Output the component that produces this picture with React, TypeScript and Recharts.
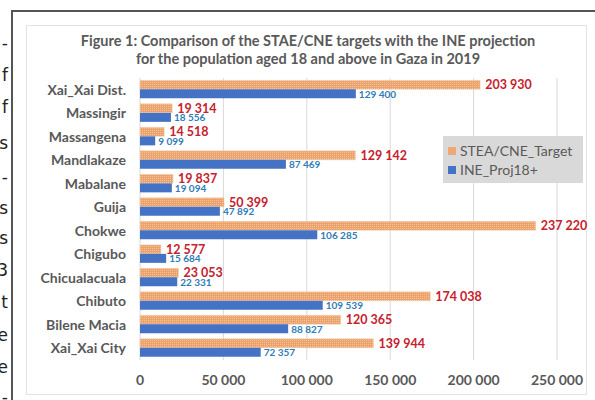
import React from "react";
import { BarChart, Bar, XAxis, YAxis, CartesianGrid, LabelList } from "recharts";

const districts = [
  "Xai_Xai Dist.",
  "Massingir",
  "Massangena",
  "Mandlakaze",
  "Mabalane",
  "Guija",
  "Chokwe",
  "Chigubo",
  "Chicualacuala",
  "Chibuto",
  "Bilene Macia",
  "Xai_Xai City",
];
const targetValues = [203930, 19314, 14518, 129142, 19837, 50399, 237220, 12577, 23053, 174038, 120365, 139944];
const ineValues = [129400, 18556, 9099, 87469, 19094, 47892, 106285, 15684, 22331, 109539, 88827, 72357];
const xTicks = [0, 50000, 100000, 150000, 200000, 250000];
const titleLines = [
  "Figure 1: Comparison of the STAE/CNE targets with the INE projection",
  "for the population aged 18 and above in Gaza in 2019",
];
const seriesNames = ["STEA/CNE_Target", "INE_Proj18+"];
const marginChars = ["-", "f", "f", "s", "-", "s", "s", "3", "t", "e", "e", "-"];
const marginYs = [43, 75, 107, 143, 177, 208, 238, 270, 302, 335, 367, 397];

const data = districts.map((name, i) => ({ name, target: targetValues[i], ine: ineValues[i] }));

const fmt = (v: any) => String(v).replace(/\B(?=(\d{3})+(?!\d))/g, " ");

const FONT = "Lato, 'Open Sans', sans-serif";
const ORANGE = "#EDA873";
const BLUE = "#4472C4";

const makeLabel = (color: string, size: number, offset: number) => (props: any) => {
  const { x, y, width, height, value } = props;
  return (
    <text
      x={Number(x) + Number(width) + offset}
      y={Number(y) + Number(height) / 2}
      dominantBaseline="central"
      fill={color}
      fontSize={size}
      fontWeight="bold"
      fontFamily={FONT}
    >
      {fmt(value)}
    </text>
  );
};

export default function App() {
  return (
    <div style={{ position: "absolute", left: 0, top: 0, width: 595, height: 400, background: "#fff", overflow: "hidden" }}>
      {marginChars.map((c, i) => (
        <div
          key={i}
          style={{
            position: "absolute",
            right: 587,
            top: marginYs[i] - 11,
            fontFamily: "'DejaVu Sans', sans-serif",
            fontSize: 17,
            color: "#222",
            lineHeight: "22px",
          }}
        >
          {c}
        </div>
      ))}
      <div style={{ position: "absolute", left: 11, top: 10, width: 600, height: 400, borderLeft: "2px solid #555", borderTop: "2px solid #555" }} />
      <div style={{ position: "absolute", left: 26, top: 25, width: 559, height: 368, border: "1px solid #e3e3e3" }} />
      <div
        style={{
          position: "absolute",
          left: 26,
          width: 564,
          top: 32,
          textAlign: "center",
          fontFamily: FONT,
          fontWeight: "bold",
          fontSize: 14.5,
          lineHeight: "18px",
          color: "#595959",
        }}
      >
        {titleLines.map((t, i) => (
          <div key={i}>{t}</div>
        ))}
      </div>
      <div style={{ position: "absolute", left: 0, top: 0 }}>
        <BarChart
          width={595}
          height={400}
          data={data}
          layout="vertical"
          margin={{ top: 78, right: 38, bottom: 10, left: 0 }}
          barCategoryGap="10%"
          barGap={0}
        >
          <defs>
            <pattern id="dots" width="2" height="2" patternUnits="userSpaceOnUse">
              <rect width="2" height="2" fill="#EBA26B" />
              <rect x="0" y="0" width="1" height="1" fill="#F3C29A" />
            </pattern>
          </defs>
          <CartesianGrid horizontal={false} stroke="#d9d9d9" />
          <XAxis
            type="number"
            domain={[0, 250000]}
            ticks={xTicks}
            tickFormatter={fmt}
            axisLine={false}
            tickLine={false}
            tickSize={0}
            tickMargin={15}
            height={30}
            tick={{ fill: "#595959", fontSize: 14, fontWeight: "bold", fontFamily: FONT }}
          />
          <YAxis
            type="category"
            dataKey="name"
            width={140}
            axisLine={false}
            tickLine={false}
            tickSize={0}
            tickMargin={14}
            interval={0}
            tick={{ fill: "#595959", fontSize: 14, fontWeight: "bold", fontFamily: FONT }}
          />
          <Bar dataKey="target" name={seriesNames[0]} fill="url(#dots)" stroke="#F6D2B4" strokeWidth={0.5} isAnimationActive={false}>
            <LabelList dataKey="target" content={makeLabel("#C8202C", 12.5, 5)} />
          </Bar>
          <Bar dataKey="ine" name={seriesNames[1]} fill={BLUE} isAnimationActive={false}>
            <LabelList dataKey="ine" content={makeLabel("#2E7CB8", 10, 3)} />
          </Bar>
        </BarChart>
      </div>
      <div
        style={{
          position: "absolute",
          left: 443,
          top: 136,
          background: "#d9d9d9",
          width: 140,
          height: 47,
          boxSizing: "border-box",
          padding: "5px 0 0 5px",
          fontFamily: FONT,
          fontSize: 14,
          color: "#595959",
          lineHeight: "19px",
        }}
      >
        <div style={{ display: "flex", alignItems: "center" }}>
          <span style={{ width: 8, height: 8, background: ORANGE, display: "inline-block", marginRight: 4 }} />
          {seriesNames[0]}
        </div>
        <div style={{ display: "flex", alignItems: "center" }}>
          <span style={{ width: 8, height: 8, background: BLUE, display: "inline-block", marginRight: 4 }} />
          {seriesNames[1]}
        </div>
      </div>
    </div>
  );
}
